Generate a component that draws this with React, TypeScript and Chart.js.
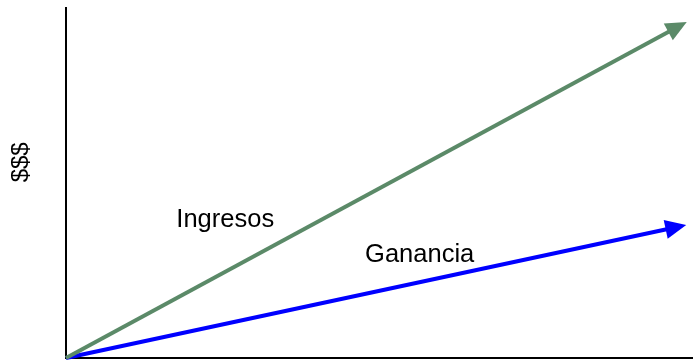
import React, { useEffect, useRef } from "react";
import { Chart, registerables } from "chart.js";

Chart.register(...registerables);

// Series: start and end (shaft end, arrowhead follows) of each trend line
const seriesNames = ["Ingresos", "Ganancia"];
const ingresosX = [0, 96.2];
const ingresosY = [0, 93.3];
const gananciaX = [0, 95.8];
const gananciaY = [0, 36.8];
const seriesColors = ["#5B8A68", "#0000FF"];

// Label anchors (data coordinates)
const labelX = [17.6, 47.7];
const labelY = [37.4, 27.4];
const axisTitle = "$$$";
const axisTitleY = 55.9;

const FONT = "'Liberation Sans', Arial, sans-serif";

const arrowPlugin = {
  id: "arrowsAndLabels",
  afterDatasetsDraw(chart: any) {
    const ctx = chart.ctx;
    const xs = chart.scales.x;
    const ys = chart.scales.y;
    ctx.save();
    chart.data.datasets.forEach((ds: any, i: number) => {
      const meta = chart.getDatasetMeta(i);
      const pts = meta.data;
      const a = pts[pts.length - 2];
      const b = pts[pts.length - 1];
      const dx = b.x - a.x;
      const dy = b.y - a.y;
      const len = Math.hypot(dx, dy);
      const ux = dx / len;
      const uy = dy / len;
      const L = 20;
      const W = 9.5;
      ctx.beginPath();
      ctx.moveTo(b.x + ux * L, b.y + uy * L);
      ctx.lineTo(b.x - uy * W - ux * 1, b.y + ux * W - uy * 1);
      ctx.lineTo(b.x + uy * W - ux * 1, b.y - ux * W - uy * 1);
      ctx.closePath();
      ctx.fillStyle = ds.borderColor;
      ctx.fill();
    });
    // series labels
    ctx.fillStyle = "#000";
    ctx.font = `25.5px ${FONT}`;
    ctx.textAlign = "left";
    ctx.textBaseline = "alphabetic";
    seriesNames.forEach((name, i) => {
      ctx.fillText(name, xs.getPixelForValue(labelX[i]), ys.getPixelForValue(labelY[i]));
    });
    // axis title
    ctx.translate(chart.chartArea.left - 44.5, ys.getPixelForValue(axisTitleY));
    ctx.rotate(-Math.PI / 2);
    ctx.textAlign = "center";
    ctx.textBaseline = "middle";
    ctx.font = `24px ${FONT}`;
    ctx.fillText(axisTitle, 0, 0);
    ctx.restore();
  },
};

export default function App() {
  const ref = useRef<HTMLCanvasElement | null>(null);
  useEffect(() => {
    if (!ref.current) return;
    const mk = (xs: number[], ys: number[]) => xs.map((x, i) => ({ x, y: ys[i] }));
    const chart = new Chart(ref.current, {
      type: "scatter",
      data: {
        datasets: [
          {
            label: seriesNames[0],
            data: mk(ingresosX, ingresosY),
            showLine: true,
            borderColor: seriesColors[0],
            backgroundColor: seriesColors[0],
            borderWidth: 4,
            pointRadius: 0,
            clip: 20,
          },
          {
            label: seriesNames[1],
            data: mk(gananciaX, gananciaY),
            showLine: true,
            borderColor: seriesColors[1],
            backgroundColor: seriesColors[1],
            borderWidth: 4,
            pointRadius: 0,
            clip: 20,
          },
        ],
      },
      options: {
        responsive: false,
        animation: false,
        layout: { padding: { left: 66, top: 8, right: 0, bottom: 3 } },
        plugins: { legend: { display: false }, tooltip: { enabled: false } },
        scales: {
          x: {
            type: "linear",
            min: 0,
            max: 100,
            grid: { display: false, drawTicks: false, tickLength: 0 },
            ticks: { display: false },
            border: { display: true, color: "#000", width: 2 },
          },
          y: {
            type: "linear",
            min: 0,
            max: 100,
            grid: { display: false, drawTicks: false, tickLength: 0 },
            ticks: { display: false },
            border: { display: true, color: "#000", width: 2 },
          },
        },
      },
      plugins: [arrowPlugin],
    } as any);
    return () => chart.destroy();
  }, []);
  return (
    <div style={{ position: "fixed", left: 0, top: 0, width: 693, height: 361, background: "#fff" }}>
      <canvas ref={ref} width={693} height={361} />
    </div>
  );
}
